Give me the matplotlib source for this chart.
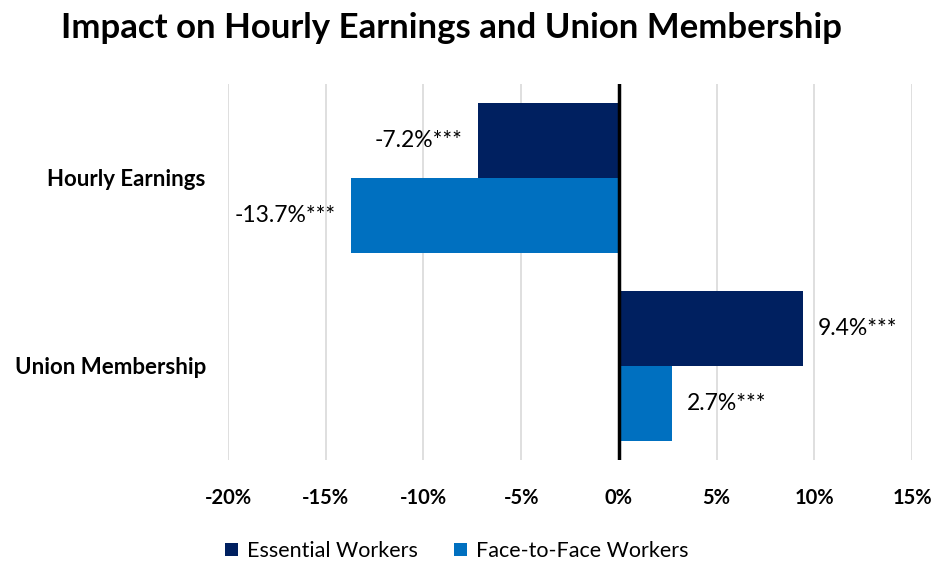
import matplotlib
matplotlib.use("Agg")
import matplotlib.pyplot as plt
import numpy as np

categories = ["Hourly Earnings", "Union Membership"]
series_names = ["Essential Workers", "Face-to-Face Workers"]
essential = [-7.2, 9.4]
face_to_face = [-13.7, 2.7]
label_suffix = "***"
xticks = [-20, -15, -10, -5, 0, 5, 10, 15]
colors = ["#002060", "#0070C0"]

plt.rcParams['font.family'] = ['Lato', 'DejaVu Sans']

fig = plt.figure(figsize=(9.37, 5.64), dpi=100)
ax = fig.add_axes([228/937, 1-460/564, (912-228)/937, (460-84)/564])

y = np.arange(len(categories))
h = 0.4
for i, (vals, col, name) in enumerate(zip([essential, face_to_face], colors, series_names)):
    pos = y - h/2 + i*h
    ax.barh(pos, vals, height=h, color=col, label=name, zorder=3)
    for p, v in zip(pos, vals):
        txt = f"{v:.1f}%{label_suffix}"
        off = 0.8
        if v < 0:
            ax.text(v - off, p, txt, ha='right', va='center', fontsize=16.5, color='black', zorder=4)
        else:
            ax.text(v + off, p, txt, ha='left', va='center', fontsize=16.5, color='black', zorder=4)

ax.set_xlim(-20, 15)
ax.set_ylim(1.5, -0.5)
ax.set_xticks(xticks)
ax.set_xticklabels([f"{t}%" for t in xticks], fontsize=14.5, fontweight='bold')
ax.set_yticks(y)
ax.set_yticklabels(categories, fontsize=16, fontweight='bold')
ax.tick_params(axis='both', length=0)
ax.tick_params(axis='x', pad=20)
ax.tick_params(axis='y', pad=16)
ax.grid(axis='x', color='#D9D9D9', linewidth=1.2, zorder=0)
ax.axvline(0, color='black', linewidth=2.5, zorder=5)
for s in ax.spines.values():
    s.set_visible(False)

fig.text(452/937, 1-28/564, "Impact on Hourly Earnings and Union Membership", ha='center', va='center',
         fontsize=25, fontweight='bold')

leg = fig.legend(loc='center', bbox_to_anchor=(457/937, 1-551/564), ncol=2, frameon=False,
                 fontsize=15.5, handlelength=0.6, handleheight=0.6, columnspacing=1.7, handletextpad=0.4)

fig.savefig("out.png", dpi=100)
